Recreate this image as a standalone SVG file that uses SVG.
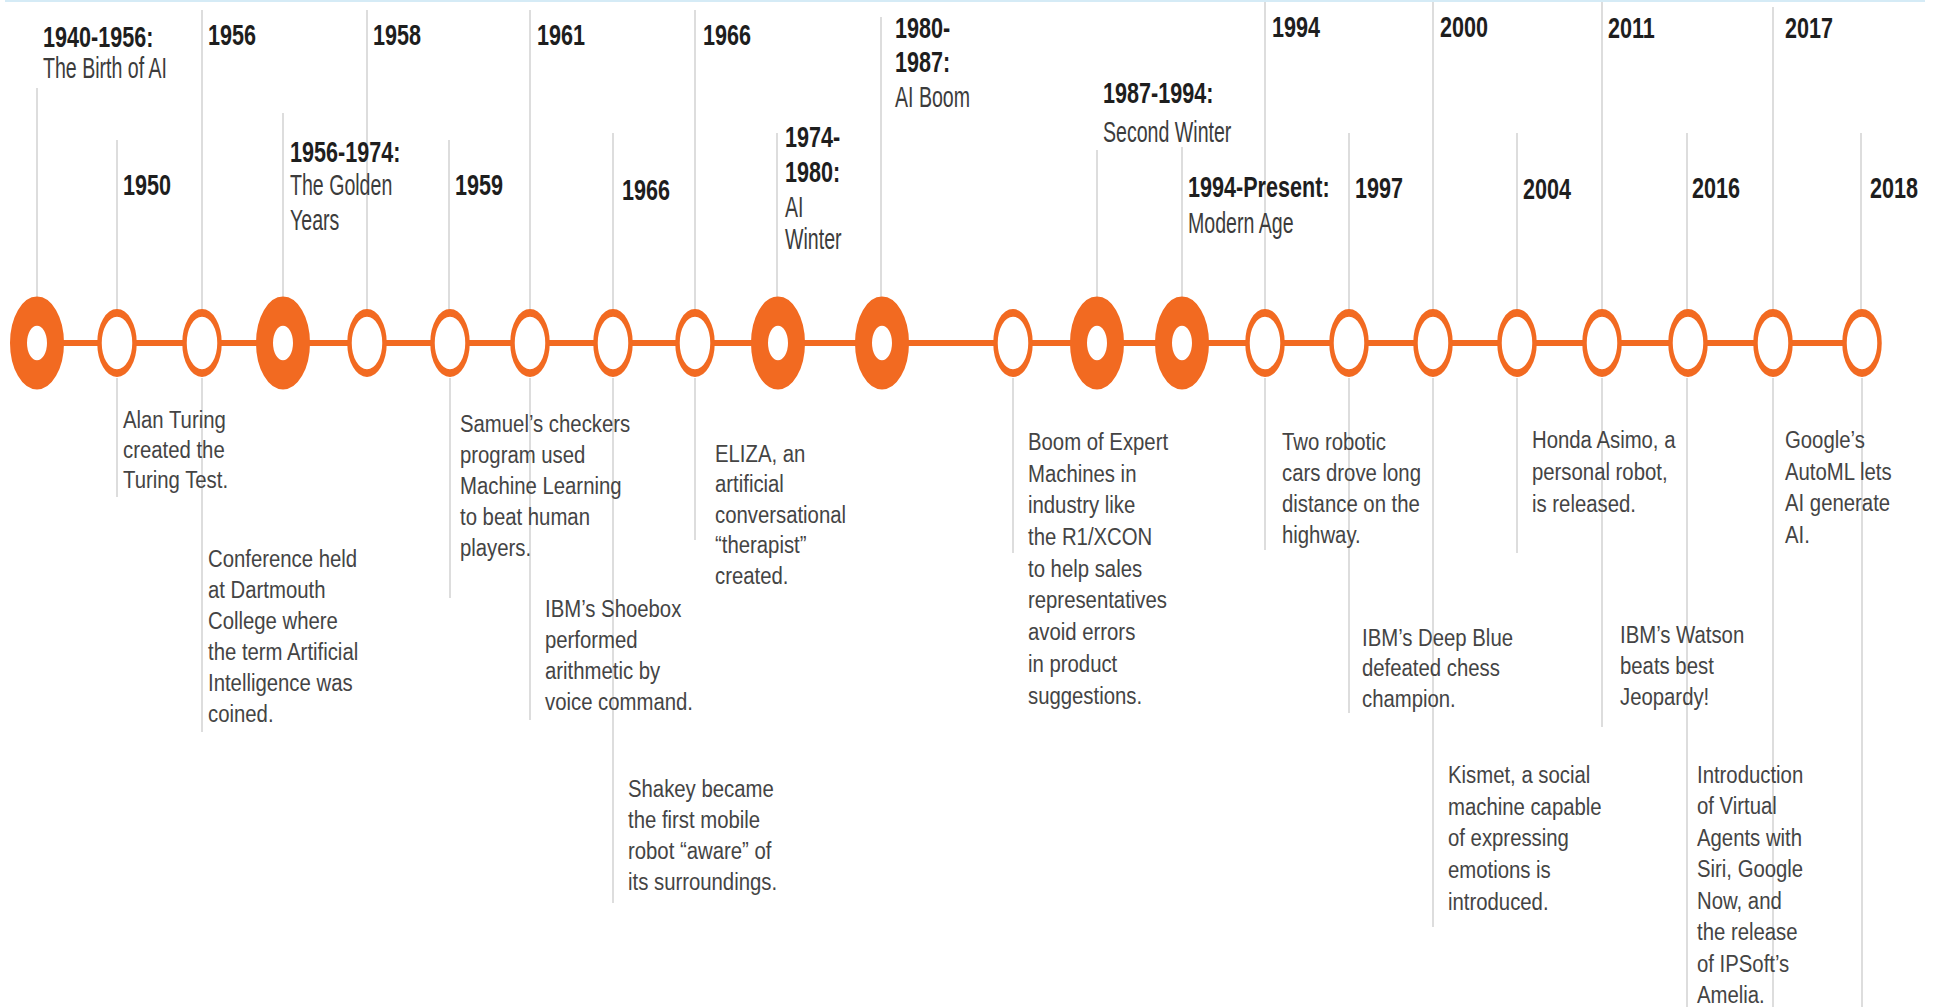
<svg xmlns="http://www.w3.org/2000/svg" width="1935" height="1007" viewBox="0 0 1935 1007">
<style>
.yr{font-family:"Liberation Sans",Arial,sans-serif;font-weight:bold;font-size:30px;fill:#1e1e1e}
.sub{font-family:"Liberation Sans",Arial,sans-serif;font-size:29px;fill:#3c3c3c}
.desc{font-family:"Liberation Sans",Arial,sans-serif;font-size:24.5px;fill:#444}
.lead{stroke:#d2d2d2;stroke-width:1.5;fill:none}
.axis{stroke:#F26A21;stroke-width:6;fill:none}
.ring{fill:#fff;stroke:#F26A21;stroke-width:4.5}
.big{fill:#fff;stroke:#F26A21;stroke-width:17}
</style>
<rect width="1935" height="1007" fill="#fff"/>
<line x1="5" y1="1" x2="1925" y2="1" stroke="#d5ebf6" stroke-width="2"/>
<g id="connectors">
<line class="axis" x1="37" y1="343" x2="1862" y2="343"/>
<line class="lead" x1="37" y1="88" x2="37" y2="297"/>
<line class="lead" x1="117" y1="140" x2="117" y2="310"/>
<line class="lead" x1="117" y1="378" x2="117" y2="497"/>
<line class="lead" x1="202" y1="10" x2="202" y2="310"/>
<line class="lead" x1="202" y1="378" x2="202" y2="732"/>
<line class="lead" x1="283" y1="113" x2="283" y2="297"/>
<line class="lead" x1="367" y1="10" x2="367" y2="310"/>
<line class="lead" x1="449" y1="140" x2="449" y2="310"/>
<line class="lead" x1="450" y1="378" x2="450" y2="598"/>
<line class="lead" x1="530" y1="10" x2="530" y2="310"/>
<line class="lead" x1="530" y1="378" x2="530" y2="720"/>
<line class="lead" x1="613" y1="133" x2="613" y2="310"/>
<line class="lead" x1="613" y1="378" x2="613" y2="903"/>
<line class="lead" x1="695" y1="10" x2="695" y2="310"/>
<line class="lead" x1="695" y1="378" x2="695" y2="540"/>
<line class="lead" x1="777" y1="133" x2="777" y2="297"/>
<line class="lead" x1="881" y1="17" x2="881" y2="297"/>
<line class="lead" x1="1013" y1="378" x2="1013" y2="553"/>
<line class="lead" x1="1097" y1="150" x2="1097" y2="297"/>
<line class="lead" x1="1182" y1="147" x2="1182" y2="297"/>
<line class="lead" x1="1265" y1="2" x2="1265" y2="310"/>
<line class="lead" x1="1265" y1="378" x2="1265" y2="550"/>
<line class="lead" x1="1349" y1="133" x2="1349" y2="310"/>
<line class="lead" x1="1349" y1="378" x2="1349" y2="713"/>
<line class="lead" x1="1433" y1="2" x2="1433" y2="310"/>
<line class="lead" x1="1433" y1="378" x2="1433" y2="927"/>
<line class="lead" x1="1517" y1="133" x2="1517" y2="310"/>
<line class="lead" x1="1517" y1="378" x2="1517" y2="553"/>
<line class="lead" x1="1602" y1="2" x2="1602" y2="310"/>
<line class="lead" x1="1602" y1="378" x2="1602" y2="727"/>
<line class="lead" x1="1687" y1="133" x2="1687" y2="310"/>
<line class="lead" x1="1687" y1="378" x2="1687" y2="1007"/>
<line class="lead" x1="1773" y1="7" x2="1773" y2="310"/>
<line class="lead" x1="1773" y1="378" x2="1773" y2="1007"/>
<line class="lead" x1="1861" y1="133" x2="1861" y2="310"/>
<line class="lead" x1="1862" y1="378" x2="1862" y2="1007"/>
</g>
<g id="n1"><circle class="big" r="18.5" transform="translate(37,343) scale(1,1.72)"/>
<text class="yr" transform="translate(43,47) scale(0.72,1)">1940-1956:</text>
<text class="sub" transform="translate(43,78) scale(0.675,1)">The Birth of AI</text></g>
<g id="n2"><circle class="ring" r="17.5" transform="translate(117,343) scale(1,1.72)"/>
<text class="yr" transform="translate(123,195) scale(0.72,1)">1950</text>
<text class="desc" transform="translate(123,428) scale(0.83,1)"><tspan x="0">Alan Turing</tspan><tspan x="0" dy="30">created the</tspan><tspan x="0" dy="30">Turing Test.</tspan></text></g>
<g id="n3"><circle class="ring" r="17.5" transform="translate(202,343) scale(1,1.72)"/>
<text class="yr" transform="translate(208,45) scale(0.72,1)">1956</text>
<text class="desc" transform="translate(208,567) scale(0.83,1)"><tspan x="0">Conference held</tspan><tspan x="0" dy="31">at Dartmouth</tspan><tspan x="0" dy="31">College where</tspan><tspan x="0" dy="31">the term Artificial</tspan><tspan x="0" dy="31">Intelligence was</tspan><tspan x="0" dy="31">coined.</tspan></text></g>
<g id="n4"><circle class="big" r="18.5" transform="translate(283,343) scale(1,1.72)"/>
<text class="yr" transform="translate(290,162) scale(0.72,1)">1956-1974:</text>
<text class="sub" transform="translate(290,195) scale(0.675,1)"><tspan x="0">The Golden</tspan><tspan x="0" dy="35">Years</tspan></text></g>
<g id="n5"><circle class="ring" r="17.5" transform="translate(367,343) scale(1,1.72)"/>
<text class="yr" transform="translate(373,45) scale(0.72,1)">1958</text></g>
<g id="n6"><circle class="ring" r="17.5" transform="translate(450,343) scale(1,1.72)"/>
<text class="yr" transform="translate(455,195) scale(0.72,1)">1959</text>
<text class="desc" transform="translate(460,432) scale(0.83,1)"><tspan x="0">Samuel’s checkers</tspan><tspan x="0" dy="31">program used</tspan><tspan x="0" dy="31">Machine Learning</tspan><tspan x="0" dy="31">to beat human</tspan><tspan x="0" dy="31">players.</tspan></text></g>
<g id="n7"><circle class="ring" r="17.5" transform="translate(530,343) scale(1,1.72)"/>
<text class="yr" transform="translate(537,45) scale(0.72,1)">1961</text>
<text class="desc" transform="translate(545,617) scale(0.83,1)"><tspan x="0">IBM’s Shoebox</tspan><tspan x="0" dy="31">performed</tspan><tspan x="0" dy="31">arithmetic by</tspan><tspan x="0" dy="31">voice command.</tspan></text></g>
<g id="n8"><circle class="ring" r="17.5" transform="translate(613,343) scale(1,1.72)"/>
<text class="yr" transform="translate(622,200) scale(0.72,1)">1966</text>
<text class="desc" transform="translate(628,797) scale(0.83,1)"><tspan x="0">Shakey became</tspan><tspan x="0" dy="31">the first mobile</tspan><tspan x="0" dy="31">robot “aware” of</tspan><tspan x="0" dy="31">its surroundings.</tspan></text></g>
<g id="n9"><circle class="ring" r="17.5" transform="translate(695,343) scale(1,1.72)"/>
<text class="yr" transform="translate(703,45) scale(0.72,1)">1966</text>
<text class="desc" transform="translate(715,462) scale(0.83,1)"><tspan x="0">ELIZA, an</tspan><tspan x="0" dy="30.5">artificial</tspan><tspan x="0" dy="30.5">conversational</tspan><tspan x="0" dy="30.5">“therapist”</tspan><tspan x="0" dy="30.5">created.</tspan></text></g>
<g id="n10"><circle class="big" r="18.5" transform="translate(778,343) scale(1,1.72)"/>
<text class="yr" transform="translate(785,147) scale(0.72,1)"><tspan x="0">1974-</tspan><tspan x="0" dy="35">1980:</tspan></text>
<text class="sub" transform="translate(785,217) scale(0.675,1)"><tspan x="0">AI</tspan><tspan x="0" dy="32">Winter</tspan></text></g>
<g id="n11"><circle class="big" r="18.5" transform="translate(882,343) scale(1,1.72)"/>
<text class="yr" transform="translate(895,38) scale(0.72,1)"><tspan x="0">1980-</tspan><tspan x="0" dy="34">1987:</tspan></text>
<text class="sub" transform="translate(895,107) scale(0.675,1)">AI Boom</text></g>
<g id="n12"><circle class="ring" r="17.5" transform="translate(1013,343) scale(1,1.72)"/>
<text class="desc" transform="translate(1028,450) scale(0.83,1)"><tspan x="0">Boom of Expert</tspan><tspan x="0" dy="31.7">Machines in</tspan><tspan x="0" dy="31.7">industry like</tspan><tspan x="0" dy="31.7">the R1/XCON</tspan><tspan x="0" dy="31.7">to help sales</tspan><tspan x="0" dy="31.7">representatives</tspan><tspan x="0" dy="31.7">avoid errors</tspan><tspan x="0" dy="31.7">in product</tspan><tspan x="0" dy="31.7">suggestions.</tspan></text></g>
<g id="n13"><circle class="big" r="18.5" transform="translate(1097,343) scale(1,1.72)"/>
<text class="yr" transform="translate(1103,103) scale(0.72,1)">1987-1994:</text>
<text class="sub" transform="translate(1103,142) scale(0.675,1)">Second Winter</text></g>
<g id="n14"><circle class="big" r="18.5" transform="translate(1182,343) scale(1,1.72)"/>
<text class="yr" transform="translate(1188,197) scale(0.72,1)">1994-Present:</text>
<text class="sub" transform="translate(1188,233) scale(0.675,1)">Modern Age</text></g>
<g id="n15"><circle class="ring" r="17.5" transform="translate(1265,343) scale(1,1.72)"/>
<text class="yr" transform="translate(1272,37) scale(0.72,1)">1994</text>
<text class="desc" transform="translate(1282,450) scale(0.83,1)"><tspan x="0">Two robotic</tspan><tspan x="0" dy="31">cars drove long</tspan><tspan x="0" dy="31">distance on the</tspan><tspan x="0" dy="31">highway.</tspan></text></g>
<g id="n16"><circle class="ring" r="17.5" transform="translate(1349,343) scale(1,1.72)"/>
<text class="yr" transform="translate(1355,198) scale(0.72,1)">1997</text>
<text class="desc" transform="translate(1362,646) scale(0.83,1)"><tspan x="0">IBM’s Deep Blue</tspan><tspan x="0" dy="30.5">defeated chess</tspan><tspan x="0" dy="30.5">champion.</tspan></text></g>
<g id="n17"><circle class="ring" r="17.5" transform="translate(1433,343) scale(1,1.72)"/>
<text class="yr" transform="translate(1440,37) scale(0.72,1)">2000</text>
<text class="desc" transform="translate(1448,783) scale(0.83,1)"><tspan x="0">Kismet, a social</tspan><tspan x="0" dy="31.7">machine capable</tspan><tspan x="0" dy="31.7">of expressing</tspan><tspan x="0" dy="31.7">emotions is</tspan><tspan x="0" dy="31.7">introduced.</tspan></text></g>
<g id="n18"><circle class="ring" r="17.5" transform="translate(1517,343) scale(1,1.72)"/>
<text class="yr" transform="translate(1523,199) scale(0.72,1)">2004</text>
<text class="desc" transform="translate(1532,448) scale(0.83,1)"><tspan x="0">Honda Asimo, a</tspan><tspan x="0" dy="32">personal robot,</tspan><tspan x="0" dy="32">is released.</tspan></text></g>
<g id="n19"><circle class="ring" r="17.5" transform="translate(1602,343) scale(1,1.72)"/>
<text class="yr" transform="translate(1608,38) scale(0.72,1)">2011</text>
<text class="desc" transform="translate(1620,643) scale(0.83,1)"><tspan x="0">IBM’s Watson</tspan><tspan x="0" dy="31">beats best</tspan><tspan x="0" dy="31">Jeopardy!</tspan></text></g>
<g id="n20"><circle class="ring" r="17.5" transform="translate(1688,343) scale(1,1.72)"/>
<text class="yr" transform="translate(1692,198) scale(0.72,1)">2016</text>
<text class="desc" transform="translate(1697,783) scale(0.83,1)"><tspan x="0">Introduction</tspan><tspan x="0" dy="31.5">of Virtual</tspan><tspan x="0" dy="31.5">Agents with</tspan><tspan x="0" dy="31.5">Siri, Google</tspan><tspan x="0" dy="31.5">Now, and</tspan><tspan x="0" dy="31.5">the release</tspan><tspan x="0" dy="31.5">of IPSoft’s</tspan><tspan x="0" dy="31.5">Amelia.</tspan></text></g>
<g id="n21"><circle class="ring" r="17.5" transform="translate(1773,343) scale(1,1.72)"/>
<text class="yr" transform="translate(1785,38) scale(0.72,1)">2017</text>
<text class="desc" transform="translate(1785,448) scale(0.83,1)"><tspan x="0">Google’s</tspan><tspan x="0" dy="31.7">AutoML lets</tspan><tspan x="0" dy="31.7">AI generate</tspan><tspan x="0" dy="31.7">AI.</tspan></text></g>
<g id="n22"><circle class="ring" r="17.5" transform="translate(1862,343) scale(1,1.72)"/>
<text class="yr" transform="translate(1870,198) scale(0.72,1)">2018</text></g>
</svg>
